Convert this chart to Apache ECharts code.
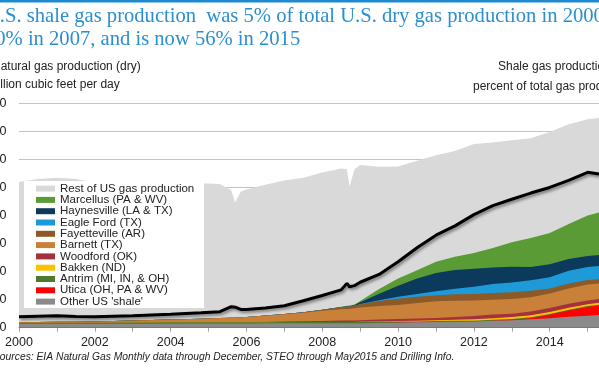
<!DOCTYPE html>
<html><head><meta charset="utf-8">
<script src="https://cdn.jsdelivr.net/npm/echarts@6/dist/echarts.min.js"></script>
<style>html,body{margin:0;padding:0;background:#fff;overflow:hidden}#c{width:599px;height:374px}</style>
</head><body><div id="c"></div>
<script>
// x positions (decimal years) shared by all series
const years = [2000.0, 2000.5, 2001.0, 2001.5, 2002.0, 2003.0, 2004.0, 2004.8, 2005.3, 2005.6, 2005.7, 2005.85, 2006.0, 2006.5, 2007.0, 2007.5, 2008.0, 2008.5, 2008.65, 2008.72, 2008.85, 2009.0, 2009.5, 2010.0, 2010.5, 2011.0, 2011.5, 2012.0, 2012.5, 2013.0, 2013.5, 2014.0, 2014.5, 2015.0, 2015.3];
// total U.S. dry gas production, bcf/d
const totalDry = [51.9, 53.0, 53.5, 53.0, 51.8, 51.5, 51.8, 51.5, 51.2, 49.0, 44.6, 48.5, 49.3, 51.0, 52.5, 53.5, 55.3, 56.8, 56.5, 50.3, 56.5, 58.0, 57.4, 57.5, 59.5, 61.5, 63.0, 65.5, 66.0, 66.8, 67.5, 69.8, 72.5, 74.3, 74.8];
// shale plays, bcf/d
const otherShale  = [1.4, 1.4, 1.4, 1.4, 1.4, 1.45, 1.5, 1.5, 1.5, 1.5, 1.5, 1.5, 1.5, 1.55, 1.6, 1.6, 1.6, 1.6, 1.6, 1.6, 1.6, 1.6, 1.7, 1.8, 1.9, 2.0, 2.1, 2.2, 2.5, 2.7, 3.0, 3.4, 3.9, 4.3, 4.5];
const utica       = [0, 0, 0, 0, 0, 0, 0, 0, 0, 0, 0, 0, 0, 0, 0, 0, 0, 0, 0, 0, 0, 0, 0, 0, 0, 0, 0, 0, 0, 0.1, 0.4, 1.2, 2.2, 3.1, 3.4];
const antrim      = [0.4, 0.4, 0.4, 0.4, 0.4, 0.4, 0.4, 0.4, 0.4, 0.4, 0.4, 0.4, 0.4, 0.4, 0.4, 0.4, 0.4, 0.4, 0.4, 0.4, 0.4, 0.4, 0.4, 0.4, 0.35, 0.35, 0.35, 0.3, 0.3, 0.3, 0.3, 0.3, 0.3, 0.3, 0.3];
const bakken      = [0, 0, 0, 0, 0, 0, 0, 0, 0, 0, 0, 0, 0, 0, 0, 0, 0.02, 0.05, 0.05, 0.05, 0.06, 0.1, 0.15, 0.2, 0.25, 0.3, 0.4, 0.5, 0.6, 0.7, 0.7, 0.7, 0.7, 0.7, 0.7];
const woodford    = [0, 0, 0, 0, 0, 0, 0, 0.02, 0.05, 0.05, 0.05, 0.06, 0.08, 0.12, 0.2, 0.3, 0.4, 0.5, 0.5, 0.52, 0.55, 0.6, 0.65, 0.7, 0.8, 0.85, 0.95, 1.2, 1.3, 1.2, 1.4, 1.4, 1.4, 1.3, 1.3];
const barnett     = [0.2, 0.25, 0.3, 0.35, 0.45, 0.7, 1.0, 1.3, 1.5, 1.6, 1.6, 1.7, 1.8, 2.2, 2.6, 3.0, 3.6, 4.0, 4.1, 4.1, 4.3, 4.5, 4.8, 5.0, 5.5, 5.9, 5.8, 5.5, 5.3, 5.2, 5.1, 5.2, 5.5, 5.7, 5.6];
const fayetteville= [0, 0, 0, 0, 0, 0, 0, 0, 0, 0, 0, 0, 0, 0.05, 0.1, 0.2, 0.4, 0.7, 0.8, 0.85, 0.95, 1.2, 1.8, 2.2, 2.2, 2.2, 2.3, 2.3, 2.4, 2.4, 2.3, 1.8, 1.8, 1.6, 1.5];
const eagleFord   = [0, 0, 0, 0, 0, 0, 0, 0, 0, 0, 0, 0, 0, 0, 0, 0, 0, 0, 0, 0, 0, 0.05, 0.3, 0.7, 1.0, 1.4, 2.0, 2.6, 3.2, 3.5, 3.7, 4.0, 4.5, 4.6, 4.7];
const haynesville = [0, 0, 0, 0, 0, 0, 0, 0, 0, 0, 0, 0, 0, 0, 0, 0, 0, 0.1, 0.15, 0.15, 0.2, 0.6, 2.3, 4.0, 5.5, 6.5, 6.7, 6.4, 5.9, 5.6, 4.7, 4.6, 4.2, 4.0, 3.9];
const marcellus   = [0, 0, 0, 0, 0, 0, 0, 0, 0, 0, 0, 0, 0, 0, 0, 0, 0, 0.15, 0.2, 0.2, 0.25, 0.5, 1.7, 2.5, 3.0, 4.0, 4.7, 5.6, 6.9, 8.8, 10.4, 11.2, 12.5, 14.4, 15.2];
// shale share of total dry gas production, percent (right axis)
const shaleShare  = [3.9, 4.1, 4.3, 4.0, 3.9, 4.3, 4.8, 5.3, 5.7, 7.5, 7.3, 6.5, 6.5, 7.0, 7.8, 9.6, 11.5, 13.5, 15.8, 14.6, 15.0, 16.2, 19.0, 23.5, 28.5, 33.0, 36.3, 40.3, 43.5, 45.8, 48.0, 50.0, 52.5, 55.4, 54.8];

const yTicks = [0, 10, 20, 30, 40, 50, 60, 70, 80];
const xTickYears = [2000, 2002, 2004, 2006, 2008, 2010, 2012, 2014];

// bottom-to-top stacking order
const plays = [
  {name: "Other US 'shale'", data: otherShale, color: '#8a8a8a'},
  {name: 'Utica (OH, PA & WV)', data: utica, color: '#ff0000'},
  {name: 'Antrim (MI, IN, & OH)', data: antrim, color: '#4b7a2b'},
  {name: 'Bakken (ND)', data: bakken, color: '#ffc000'},
  {name: 'Woodford (OK)', data: woodford, color: '#a5303f'},
  {name: 'Barnett (TX)', data: barnett, color: '#c98039'},
  {name: 'Fayetteville (AR)', data: fayetteville, color: '#8c5a27'},
  {name: 'Eagle Ford (TX)', data: eagleFord, color: '#1f9ad8'},
  {name: 'Haynesville (LA & TX)', data: haynesville, color: '#0c3a5c'},
  {name: 'Marcellus (PA & WV)', data: marcellus, color: '#5b9b35'}
];
const restOfUS = totalDry.map((t, i) => +(t - plays.reduce((s, p) => s + p.data[i], 0)).toFixed(2));
plays.push({name: 'Rest of US gas production', data: restOfUS, color: '#d9d9d9'});

// cumulative tops (stack built here, drawn top layer first so lower layers paint over)
let running = years.map(() => 0);
const layers = plays.map(p => {
  running = running.map((r, i) => r + p.data[i]);
  return {name: p.name, color: p.color, top: running.slice()};
});

const series = layers.slice().reverse().map(l => ({
  name: l.name, type: 'line', data: years.map((y, i) => [y, +l.top[i].toFixed(3)]),
  showSymbol: false, symbol: 'none', lineStyle: {width: 0}, itemStyle: {color: l.color},
  areaStyle: {color: l.color, opacity: 1, origin: 'start'}, z: 2, silent: true
}));
series.push({
  name: 'Shale share', type: 'line', yAxisIndex: 1, data: years.map((y, i) => [y, shaleShare[i]]),
  showSymbol: false, symbol: 'none', z: 5,
  lineStyle: {color: '#000', width: 3, shadowColor: 'rgba(0,0,0,0.45)', shadowBlur: 3, shadowOffsetX: 1.5, shadowOffsetY: 2}
});

const chart = echarts.init(document.getElementById('c'), null, {renderer: 'canvas'});
chart.setOption({
  animation: false,
  backgroundColor: '#fff',
  grid: {left: 19, right: 0, top: 103.3, bottom: 46.3, containLabel: false, outerBoundsMode: 'none'},
  xAxis: {
    type: 'value', min: 2000, max: 2015.3, interval: 1,
    axisLine: {show: true, lineStyle: {color: '#a0a0a0', width: 1}},
    axisTick: {show: true, length: 4, lineStyle: {color: '#a0a0a0'}},
    splitLine: {show: false},
    axisLabel: {
      showMaxLabel: false, margin: 8, color: '#222', fontSize: 12.5, fontFamily: 'Liberation Sans, Arial',
      formatter: v => xTickYears.indexOf(v) >= 0 ? String(v) : ''
    }
  },
  yAxis: [{
    type: 'value', min: yTicks[0], max: yTicks[yTicks.length - 1], interval: 10,
    axisLine: {show: false}, axisTick: {show: false},
    splitLine: {show: true, lineStyle: {color: '#c4c4c4', width: 1}},
    axisLabel: {margin: 12.5, color: '#222', fontSize: 12.5, fontFamily: 'Liberation Sans, Arial'}
  }, {
    type: 'value', min: 0, max: 80, show: false, splitLine: {show: false}
  }],
  legend: {
    orient: 'vertical', left: 36, top: 182.6, padding: 0, itemGap: -0.7,
    itemWidth: 19, itemHeight: 6, icon: 'rect', z: 110,
    selectedMode: false,
    data: plays.slice().reverse().map(p => p.name),
    textStyle: {color: '#222', fontSize: 11.5, lineHeight: 11.3, fontFamily: 'Liberation Sans, Arial', padding: [0, 0, 0, 0]}
  },
  graphic: [
    {type: 'rect', left: 0, top: 0, shape: {width: 599, height: 2.5}, style: {fill: '#1f8ad2'}, z: 100},
    {type: 'rect', left: 24, top: 181, shape: {width: 180, height: 127}, style: {fill: '#fff'}, z: 100},
    {type: 'text', left: -15, top: 5, z: 100, style: {text: 'U.S. shale gas production  was 5% of total U.S. dry gas production in 2000,\n20% in 2007, and is now 56% in 2015', fill: '#2a8fd0', font: '20.6px "Liberation Serif", "Times New Roman", serif', lineHeight: 23}},
    {type: 'text', left: -8, top: 61, z: 100, style: {text: 'Natural gas production (dry)', fill: '#222', font: '12px "Liberation Sans", Arial, sans-serif'}},
    {type: 'text', left: -9, top: 79, z: 100, style: {text: 'billion cubic feet per day', fill: '#222', font: '12px "Liberation Sans", Arial, sans-serif'}},
    {type: 'text', left: 498, top: 61, z: 100, style: {text: 'Shale gas production as a', fill: '#222', font: '12px "Liberation Sans", Arial, sans-serif'}},
    {type: 'text', left: 473, top: 81, z: 100, style: {text: 'percent of total gas production', fill: '#222', font: '12px "Liberation Sans", Arial, sans-serif'}},
    {type: 'text', left: -7, top: 352, z: 100, style: {text: 'Sources: EIA Natural Gas Monthly data through December, STEO through May2015 and Drilling Info.', fill: '#222', font: 'italic 10.3px "Liberation Sans", Arial, sans-serif'}}
  ],
  series: series
});
</script>
</body></html>
